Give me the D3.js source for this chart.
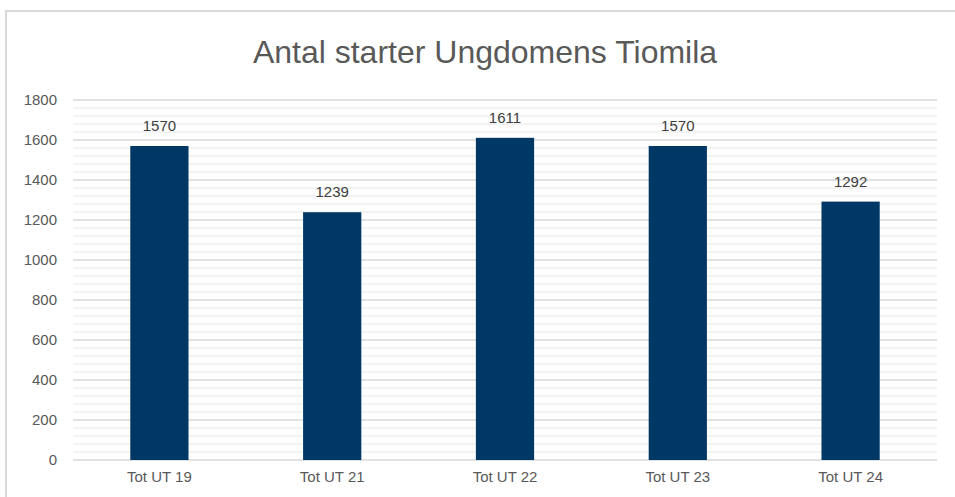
<!DOCTYPE html>
<html><head><meta charset="utf-8">
<script src="https://cdn.jsdelivr.net/npm/d3@7"></script>
<style>html,body{margin:0;padding:0;background:#fff;overflow:hidden}</style>
</head><body><svg id="c" width="955" height="497"></svg>
<script>
const categories = ["Tot UT 19","Tot UT 21","Tot UT 22","Tot UT 23","Tot UT 24"];
const values = [1570,1239,1611,1570,1292];
const yTicks = [0,200,400,600,800,1000,1200,1400,1600,1800];
const title = "Antal starter Ungdomens Tiomila";

const svg = d3.select("#c");
const font = "'Liberation Sans', Arial, sans-serif";
const W = 955, H = 497;
const m = {l:73, r:18, t:100, b:37};

// outer border
svg.append("path").attr("d", `M6,${H} L6,11 L${W},11`).attr("fill","none").attr("stroke","#d9d9d9").attr("stroke-width",2);

const x = d3.scaleBand().domain(categories).range([m.l, W-m.r]).paddingInner(0.663).paddingOuter(0.3315);
const y = d3.scaleLinear().domain([0,1800]).range([H-m.b, m.t]);

// minor gridlines
const minor = d3.range(0, 1801, 40).filter(v => v % 200 !== 0);
svg.append("g").selectAll("line").data(minor).join("line")
  .attr("x1", m.l).attr("x2", W-m.r).attr("y1", d=>y(d)).attr("y2", d=>y(d))
  .attr("stroke","#efefef").attr("stroke-width",1.5);
// major gridlines
svg.append("g").selectAll("line").data(yTicks).join("line")
  .attr("x1", m.l).attr("x2", W-m.r).attr("y1", d=>y(d)).attr("y2", d=>y(d))
  .attr("stroke","#d9d9d9").attr("stroke-width",1.5);

// y axis labels
const yAxis = d3.axisLeft(y).tickValues(yTicks).tickSize(0).tickPadding(16).tickFormat(d3.format("d"));
const ga = svg.append("g").attr("transform",`translate(${m.l},0)`).call(yAxis);
ga.select(".domain").remove();
ga.selectAll("text").attr("font-family",font).attr("font-size",15).attr("fill","#595959");

// bars
svg.append("g").selectAll("rect").data(values).join("rect")
  .attr("x",(d,i)=>x(categories[i])).attr("width",x.bandwidth())
  .attr("y",d=>y(d)).attr("height",d=>y(0)-y(d)).attr("fill","#003865");

// data labels
svg.append("g").selectAll("text").data(values).join("text")
  .attr("x",(d,i)=>x(categories[i])+x.bandwidth()/2).attr("y",d=>y(d)-15)
  .attr("text-anchor","middle").attr("font-family",font).attr("font-size",15).attr("fill","#404040")
  .text(d=>d);

// x axis labels
const xAxis = d3.axisBottom(x).tickSize(0).tickPadding(11);
const gx = svg.append("g").attr("transform",`translate(0,${y(0)})`).call(xAxis);
gx.select(".domain").remove();
gx.selectAll("text").attr("font-family",font).attr("font-size",15).attr("fill","#595959");

// title
svg.append("text").attr("x",485).attr("y",63).attr("text-anchor","middle")
  .attr("font-family",font).attr("font-size",32).attr("fill","#595959").text(title);
</script></body></html>
